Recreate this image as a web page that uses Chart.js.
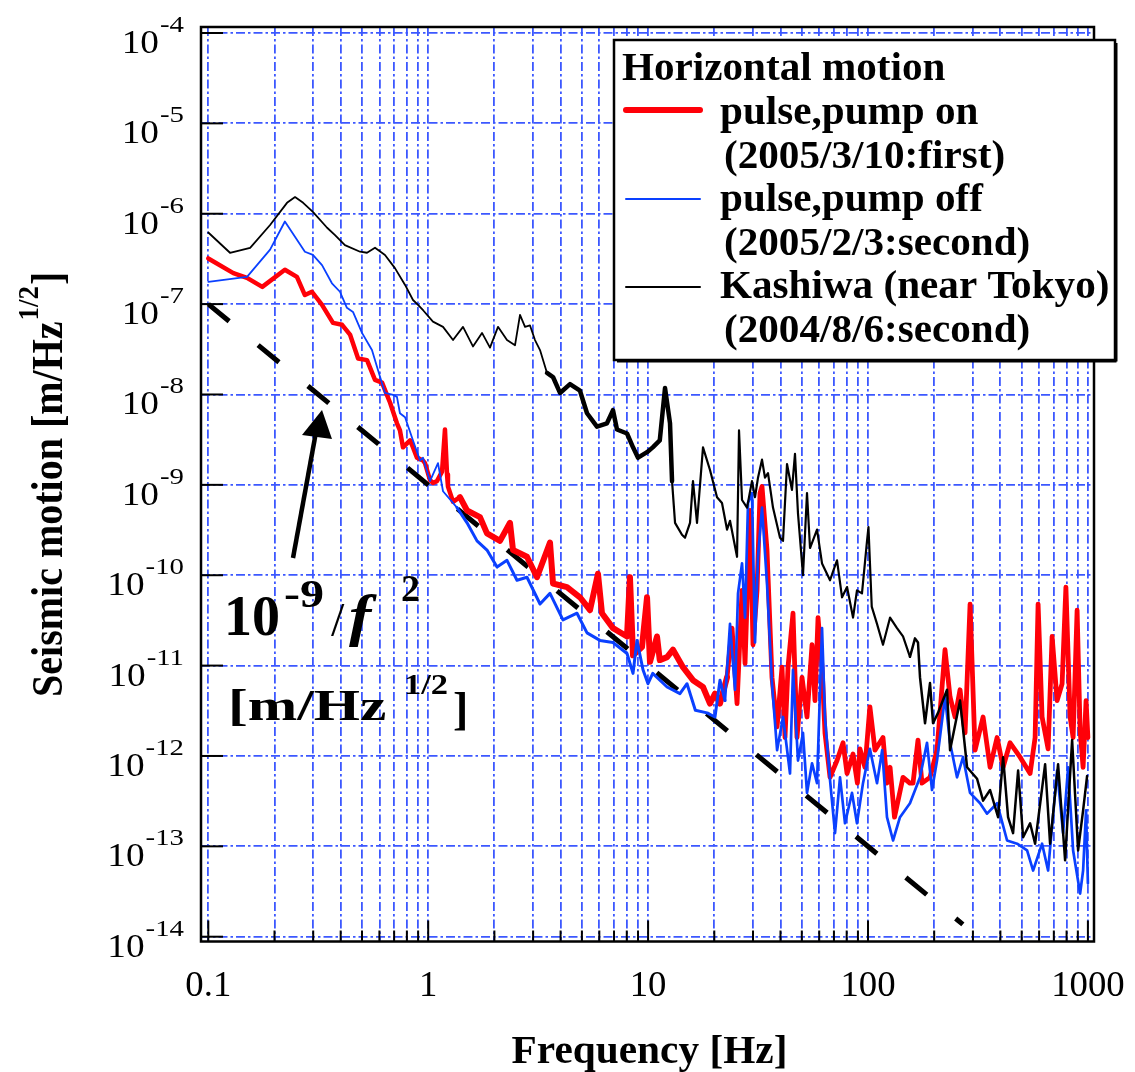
<!DOCTYPE html>
<html><head><meta charset="utf-8">
<script src="https://cdn.jsdelivr.net/npm/chart.js@4.4.0/dist/chart.umd.min.js"></script>
<style>html,body{margin:0;padding:0;background:#fff}canvas{display:block}</style>
</head><body>
<canvas id="c" width="1135" height="1072" style="width:1135px;height:1072px"></canvas>
<script>
// ---------------- DATA ----------------
const redFreq = [0.1,0.13,0.15,0.176,0.223,0.253,0.275,0.296,0.329,0.369,0.406,0.441,0.48,0.527,0.573,0.617,0.649,0.671,0.721,0.744,0.768,0.827,0.853,0.889,0.947,0.967,1.019,1.051,1.096,1.156,1.192,1.218,1.23,1.297,1.395,1.502,1.72,1.851,2.121,2.355,2.43,2.814,3.125,3.58,3.695,4.277,4.9,5.443,5.917,6.17,6.925,8.02,8.27,8.54,9.38,9.89,10.2,10.98,11.3,12.2,12.98,14.41,16.0,17.77,19.12,20.15,21.23,22.85,24.08,25.38,26.74,27.6,29.07,30.0,31.29,32.28,32.96,34.73,36.6,38.6,40.64,41.94,43.28,45.6,47.55,50.11,52.8,55.66,57.4,59.26,61.8,63.74,67.2,72.3,77.0,80.3,85.5,89.5,91.9,96.9,102,107.6,117,122,126,132,144.3,155,160.2,168.8,176,191.4,206,224,236.1,248.8,262.2,276.3,291.2,306.8,333.7,359.1,386.4,411.5,442.7,491.7,546,575.4,593.6,619,659.2,687.4,724.4,763.3,794.3,830.1,856.6,893.1,921.8,951,981,1000];
const redVal = [3.2e-7,2.2e-7,1.95e-7,1.55e-7,2.4e-7,2.0e-7,1.26e-7,1.37e-7,9.8e-8,6.2e-8,5.9e-8,4.6e-8,2.5e-8,2.4e-8,1.45e-8,1.35e-8,9.9e-9,8.1e-9,4.8e-9,4.0e-9,2.6e-9,3.1e-9,2.6e-9,2.0e-9,1.86e-9,1.74e-9,1.13e-9,1.05e-9,1.1e-9,1.4e-9,4.1e-9,1.3e-9,9.6e-10,6.5e-10,7.3e-10,5.2e-10,4.4e-10,2.9e-10,2.4e-10,3.8e-10,1.9e-10,1.6e-10,9.5e-11,2.3e-10,8.1e-11,7.4e-11,5.7e-11,4.1e-11,1.04e-10,3.8e-11,2.6e-11,2.1e-11,9.5e-11,1.3e-11,1.6e-11,5.7e-11,1.1e-11,2.1e-11,1.15e-11,1.24e-11,1.5e-11,9.6e-12,6.9e-12,5.8e-12,3.8e-12,4.9e-12,3.8e-12,7.4e-12,2.6e-11,3.8e-12,6.8e-11,1.06e-11,5.2e-10,1.7e-11,6.8e-11,8.1e-10,9.6e-10,1.9e-10,7.4e-12,2.1e-12,9.6e-12,1.6e-12,9.6e-12,3.8e-11,1.6e-12,7.4e-12,2.7e-12,1.7e-11,4.1e-12,3.4e-11,9.6e-12,1.8e-12,5.8e-13,8.9e-13,1.4e-12,6.4e-13,1.05e-12,5.0e-13,1.2e-12,7.5e-13,3.5e-12,1.16e-12,1.6e-12,5.0e-13,7.5e-13,2.1e-13,5.8e-13,5.0e-13,5.0e-13,1.5e-12,5.0e-13,5.8e-13,1.16e-12,1.5e-11,4.5e-12,2.7e-12,5.4e-12,1.8e-12,4.8e-11,1.16e-12,2.7e-12,7.5e-13,1.6e-12,7.5e-13,1.4e-12,9.7e-13,6.4e-13,1.6e-12,4.8e-11,2.7e-12,1.2e-12,2.1e-11,4.1e-12,6.3e-12,7.4e-11,2.7e-12,1.6e-12,4.1e-11,1.9e-12,7.5e-13,4.1e-12,1.6e-12];

const blueFreq = [0.1,0.15,0.191,0.223,0.275,0.299,0.329,0.365,0.397,0.427,0.455,0.5,0.555,0.591,0.636,0.692,0.721,0.744,0.785,0.853,0.918,0.947,1.019,1.108,1.168,1.352,1.502,1.667,1.851,2.056,2.282,2.534,2.814,3.225,3.58,4.1,4.75,5.276,6.04,6.925,8.02,8.54,8.9,9.48,9.99,10.5,12.2,13.96,15.03,16.4,18.53,20.15,21.23,22.37,23.58,24.85,25.64,26.74,27.6,28.47,29.68,30.64,31.61,32.96,34.73,36.6,38.6,41.07,44.2,45.6,48.05,50.63,52.8,55.66,58.64,61.8,63.74,67.2,70.8,74.6,78.6,84.6,89.1,94.9,102,109.9,116,122,130,139.8,155.2,172.4,185.5,195.5,206,224,236.1,254,270.5,291.2,323.3,347.9,386.4,429,476.4,529,563.5,619,659.2,724.4,771.4,812.8,856.6,921.8,951,981,1000];
const blueVal = [1.76e-7,2.0e-7,4.0e-7,8.2e-7,3.8e-7,3.5e-7,2.7e-7,1.7e-7,1.37e-7,9.1e-8,8.2e-8,4.8e-8,3.1e-8,1.87e-8,1.04e-8,9.9e-9,9.4e-9,6.2e-9,5.6e-9,3.1e-9,1.86e-9,2.0e-9,1.1e-9,1.74e-9,8.5e-10,5.6e-10,3.8e-10,2.4e-10,1.9e-10,1.23e-10,1.46e-10,8.8e-11,9.5e-11,4.8e-11,6.3e-11,3.2e-11,3.8e-11,2.3e-11,1.9e-11,1.8e-11,1.36e-11,8.2e-12,1.9e-11,9.0e-12,6.3e-12,8.2e-12,5.8e-12,4.9e-12,6.3e-12,3.2e-12,3.0e-12,2.7e-12,6.9e-12,4.1e-12,2.9e-11,5.4e-12,6.3e-11,1.35e-10,3.4e-11,6.3e-10,8.1e-10,1.8e-11,1.6e-10,5.6e-10,8.1e-11,6.3e-12,1.16e-12,2.7e-12,6.4e-13,9.0e-12,8.9e-13,1.8e-12,3.9e-13,8.3e-13,5.0e-13,2.6e-11,2.7e-12,5.4e-13,1.4e-13,5.8e-13,1.8e-13,3.9e-13,1.8e-13,5.0e-13,1.2e-12,5.0e-13,1.16e-12,2.1e-13,1.16e-13,2.1e-13,3.0e-13,5.8e-13,1.4e-12,4.2e-13,8.9e-13,4.5e-12,1.4e-12,5.8e-13,9.7e-13,3.9e-13,3.0e-13,2.3e-13,3.0e-13,1.16e-13,1.07e-13,9.0e-14,5.4e-14,1.07e-13,5.4e-14,6.9e-13,1.4e-13,7.5e-13,9.0e-14,3.0e-14,5.4e-14,2.5e-13,3.9e-14];

const blackFreq = [0.1,0.1255,0.155,0.191,0.228,0.248,0.27,0.299,0.347,0.377,0.418,0.49,0.527,0.573,0.636,0.706,0.785,0.853,0.899,0.95,1.051,1.168,1.297,1.44,1.598,1.757,1.91,2.077,2.282,2.482,2.615,2.756,2.904,3.06,3.225,3.47,3.695,3.976,4.414,4.9,5.276,5.855,6.5,6.925,7.22,8.02,8.54,9.0,9.89,10.5,11.3,11.94,12.58,12.85,13.26,14.26,14.72,15.51,16.0,16.69,17.77,19.12,20.58,21.68,22.85,23.58,25.38,25.91,26.74,28.18,29.68,30.64,31.61,32.96,34.0,35.1,36.98,39.8,41.07,42.83,45.1,46.56,48.05,50.63,52.8,54.5,58.64,61.8,67.2,69.33,72.3,76.2,80.3,85.5,89.1,93.9,99,100.5,104,109.9,117,126,135.5,144.3,155.2,163.6,168.8,172.4,181.7,191.4,197.6,208.2,228.8,236.1,262.2,282.2,313.3,333.7,359.1,390.5,411.5,433.5,456.8,481.5,507.4,546,575.4,639,673.1,732,787.7,847.7,902.6,951,991.7];
const blackVal = [6.2e-7,3.7e-7,4.2e-7,7.5e-7,1.32e-6,1.53e-6,1.32e-6,1.05e-6,7.0e-7,5.8e-7,4.5e-7,3.8e-7,3.7e-7,4.2e-7,3.5e-7,2.5e-7,1.63e-7,1.11e-7,9.8e-8,8.5e-8,6.4e-8,5.6e-8,4.0e-8,5.6e-8,3.4e-8,4.8e-8,3.3e-8,5.6e-8,4.0e-8,3.5e-8,7.6e-8,5.6e-8,5.8e-8,4.0e-8,3.1e-8,1.73e-8,1.56e-8,1.04e-8,1.3e-8,1.1e-8,6.2e-9,4.4e-9,4.8e-9,6.7e-9,4.1e-9,3.7e-9,2.6e-9,2.0e-9,2.3e-9,2.6e-9,3.1e-9,1.18e-8,4.8e-9,1.1e-9,3.8e-10,2.8e-10,2.6e-10,3.8e-10,1.1e-9,3.8e-10,2.6e-9,1.46e-9,7.3e-10,6.3e-10,3.2e-10,4.0e-10,1.6e-10,4.0e-9,6.8e-10,5.6e-10,1.1e-9,7.3e-10,1.2e-9,1.9e-9,1.2e-9,1.35e-9,5.6e-10,2.6e-10,2.4e-10,1.7e-9,8.8e-10,2.2e-9,4.8e-10,1.0e-10,8.1e-10,2.0e-10,3.2e-10,1.35e-10,8.8e-11,1.1e-10,1.46e-10,5.7e-11,7.4e-11,3.4e-11,6.8e-11,6.3e-11,2.4e-10,3.4e-10,4.5e-11,2.9e-11,1.7e-11,3.4e-11,2.6e-11,2.1e-11,1.25e-11,2.0e-11,1.8e-11,7.4e-12,2.3e-12,6.4e-12,2.3e-12,3.0e-12,5.4e-12,1.16e-12,4.1e-12,7.5e-13,5.6e-13,3.2e-13,4.2e-13,2.1e-13,9.7e-13,2.1e-13,1.4e-13,6.9e-13,1.26e-13,1.8e-13,1.07e-13,8.1e-13,1.07e-13,8.1e-13,7.0e-14,1.5e-12,9.0e-14,2.5e-13,6.0e-13];

// reference slope line 1e-9/f^2 (end points)
const dashFreq = [0.1, 270];
const dashVal = [1e-7, 1.37e-14];

// axes / ticks
const xTickValues = [0.1, 1, 10, 100, 1000];
const xTickLabels = ['0.1', '1', '10', '100', '1000'];
const xMinorMultipliers = [2,3,4,5,6,7,8,9];
const yTickExponents = [-4,-5,-6,-7,-8,-9,-10,-11,-12,-13,-14];

const seriesNames = ['pulse,pump on', 'pulse,pump off', 'Kashiwa (near Tokyo)'];
const seriesDates = ['(2005/3/10:first)', '(2005/2/3:second)', '(2004/8/6:second)'];
const legendTitle = 'Horizontal motion';
const xTitle = 'Frequency [Hz]';
const yTitleMain = 'Seismic motion [m/Hz';

// ---------------- BUILD ----------------
const pts = (f, v) => f.map((x, i) => ({x: x, y: v[i]}));
const xGrid = [];
xTickValues.forEach((d, i) => { xGrid.push(d); if (i < xTickValues.length - 1) xMinorMultipliers.forEach(m => xGrid.push(m * d)); });
const yGrid = yTickExponents.map(e => Math.pow(10, e));

const RED = '#ff0008', BLUE = '#0a40ff', BLACK = '#000000';
const GRID = 'rgb(60,88,255)';
const SERIF = '"Liberation Serif","Times New Roman",serif';

function txt(ctx, s, x, y, font, align, sx) {
  ctx.save(); ctx.font = font; ctx.textAlign = align || 'left'; ctx.textBaseline = 'alphabetic';
  ctx.translate(x, y); ctx.scale(sx || 1, 1); ctx.fillText(s, 0, 0); ctx.restore();
}
function tw(ctx, s, font, sx) { ctx.save(); ctx.font = font; const w = ctx.measureText(s).width * (sx || 1); ctx.restore(); return w; }

const decor = {
  id: 'decor',
  afterDraw(chart) {
    const ctx = chart.ctx, a = chart.chartArea, xs = chart.scales.x, ys = chart.scales.y;
    const line = (x1, y1, x2, y2) => { ctx.beginPath(); ctx.moveTo(x1, y1); ctx.lineTo(x2, y2); ctx.stroke(); };
    ctx.save();
    ctx.strokeStyle = '#000'; ctx.fillStyle = '#000';
    // frame
    ctx.lineWidth = 2.5;
    ctx.strokeRect(a.left, a.top, a.right - a.left, a.bottom - a.top);
    // inward tick marks
    ctx.lineWidth = 2;
    yGrid.forEach(v => { const y = ys.getPixelForValue(v); line(a.left, y, a.left + 22, y); });
    xGrid.forEach(v => {
      const x = xs.getPixelForValue(v);
      const major = xTickValues.some(t => Math.abs(t - v) < 1e-9);
      line(x, a.bottom, x, a.bottom - (major ? 21 : 11));
    });
    // y tick labels 10^n
    yTickExponents.forEach(e => {
      const y = ys.getPixelForValue(Math.pow(10, e));
      const sup = String(e), fs = '24px ' + SERIF;
      txt(ctx, sup, 184, y - 1, fs, 'right', 1.2);
      const w = tw(ctx, sup, fs, 1.2);
      txt(ctx, '10', 184 - w - 1, y + 20, '33px ' + SERIF, 'right', 1.13);
    });
    // x tick labels
    xTickValues.forEach((v, i) => txt(ctx, xTickLabels[i], xs.getPixelForValue(v), a.bottom + 54, '35px ' + SERIF, 'center', 1.05));
    // x title
    txt(ctx, xTitle, (a.left + a.right) / 2 + 2, 1063, 'bold 39px ' + SERIF, 'center', 1.06);
    // y title (rotated)
    ctx.save();
    ctx.translate(62, (a.top + a.bottom) / 2);
    ctx.rotate(-Math.PI / 2);
    ctx.scale(1, 1.1);
    const fM = 'bold 40px ' + SERIF, fS = 'bold 27px ' + SERIF;
    const w1 = tw(ctx, yTitleMain, fM), w2 = tw(ctx, '1/2', fS), w3 = tw(ctx, ']', fM);
    const sx = -(w1 + w2 + w3 + 2) / 2;
    txt(ctx, yTitleMain, sx, 0, fM, 'left');
    txt(ctx, '1/2', sx + w1 + 1, -22, fS, 'left');
    txt(ctx, ']', sx + w1 + w2 + 2, 0, fM, 'left');
    ctx.restore();

    // annotation arrow
    ctx.lineWidth = 4.5;
    line(293, 558, 316, 432);
    ctx.beginPath(); ctx.moveTo(322, 410); ctx.lineTo(302, 435); ctx.lineTo(332, 439); ctx.closePath(); ctx.fill();
    // annotation text 10^-9 / f^2  [m/Hz^1/2]
    txt(ctx, '10', 224, 635, 'bold 56px ' + SERIF, 'left', 1);
    txt(ctx, '-9', 284, 607, 'bold 40px ' + SERIF, 'left', 1.2);
    txt(ctx, '/', 331, 636, '48px ' + SERIF, 'left', 1);
    txt(ctx, 'f', 349, 635, 'italic bold 58px ' + SERIF, 'left', 1.15);
    txt(ctx, '2', 401, 601, 'bold 38px ' + SERIF, 'left', 1);
    txt(ctx, '[m/Hz', 228, 720, 'bold 44px ' + SERIF, 'left', 1.35);
    txt(ctx, '1/2', 404, 694, 'bold 30px ' + SERIF, 'left', 1.15);
    txt(ctx, ']', 453, 724, 'bold 46px ' + SERIF, 'left', 1);

    // legend
    const L = 614, T = 40, W = 501, H = 320;
    ctx.fillStyle = '#fff'; ctx.fillRect(L, T, W, H);
    ctx.fillStyle = '#000';
    ctx.lineWidth = 2.5; ctx.strokeRect(L, T, W, H);
    ctx.lineWidth = 2; line(L + W + 1.5, T + 3, L + W + 1.5, T + H + 1.5); line(L + 3, T + H + 1.5, L + W + 1.5, T + H + 1.5);
    const fL = 'bold 39px ' + SERIF, sL = 1.055;
    txt(ctx, legendTitle, 622, 80, fL, 'left', sL);
    const cols = [RED, BLUE, BLACK], lws = [6, 2, 2], ly = [110, 199, 287], ny = [124, 211, 298], dy = [168, 255, 342];
    ctx.lineCap = 'round';
    for (let i = 0; i < 3; i++) {
      ctx.strokeStyle = cols[i]; ctx.lineWidth = lws[i];
      line(626, ly[i], 700, ly[i]);
      txt(ctx, seriesNames[i], 720, ny[i], fL, 'left', sL);
      txt(ctx, seriesDates[i], 724, dy[i], fL, 'left', sL);
    }
    ctx.restore();
  }
};

// thicker strokes where the measured spectra are dense/noisy
const widthBy = (ranges, base) => ctx => {
  const f = ctx.p0.parsed.x;
  for (const r of ranges) if (f >= r[0] && f < r[1]) return r[2];
  return base;
};

const ds = (label, f, v, color, width, order, dash, seg) => ({
  label: label, data: pts(f, v), borderColor: color, backgroundColor: color,
  borderWidth: width, pointRadius: 0, tension: 0, fill: false, order: order,
  borderDash: dash || [], borderJoinStyle: 'round', borderCapStyle: dash ? 'butt' : 'round',
  segment: seg ? { borderWidth: seg } : undefined
});

new Chart(document.getElementById('c'), {
  type: 'line',
  data: { datasets: [
    ds('1e-9/f^2', dashFreq, dashVal, BLACK, 5, 4, [27, 37.5]),
    ds(seriesNames[0], redFreq, redVal, RED, 4.5, 3, null, widthBy([[1.3, 22, 6], [22, 1001, 4.8]], 4.5)),
    ds(seriesNames[1], blueFreq, blueVal, BLUE, 1.8, 2, null, widthBy([[1.3, 22, 3.0], [22, 1001, 2.7]], 1.8)),
    ds(seriesNames[2], blackFreq, blackVal, BLACK, 1.8, 1, null, widthBy([[3.3, 12.6, 4.5], [12.6, 150, 2.2], [150, 1001, 2.5]], 1.8))
  ]},
  options: {
    responsive: false, animation: false, devicePixelRatio: 1,
    layout: { padding: { left: 201, right: 41, top: 27, bottom: 130.5 } },
    plugins: { legend: { display: false }, tooltip: { enabled: false }, title: { display: false } },
    scales: {
      x: {
        type: 'logarithmic', min: 0.09265, max: 1066, bounds: 'data',
        afterBuildTicks: s => { s.ticks = xGrid.map(v => ({ value: v })); },
        ticks: { display: false, autoSkip: false },
        grid: { color: GRID, lineWidth: 1.8, drawTicks: false },
        border: { display: false, dash: [9, 3, 2.5, 3] }
      },
      y: {
        type: 'logarithmic', min: 8.85e-15, max: 1.165e-4, bounds: 'data',
        afterBuildTicks: s => { s.ticks = yGrid.map(v => ({ value: v })); },
        ticks: { display: false, autoSkip: false },
        grid: { color: GRID, lineWidth: 1.8, drawTicks: false },
        border: { display: false, dash: [9, 3, 2.5, 3] }
      }
    }
  },
  plugins: [decor]
});
</script>
</body></html>
